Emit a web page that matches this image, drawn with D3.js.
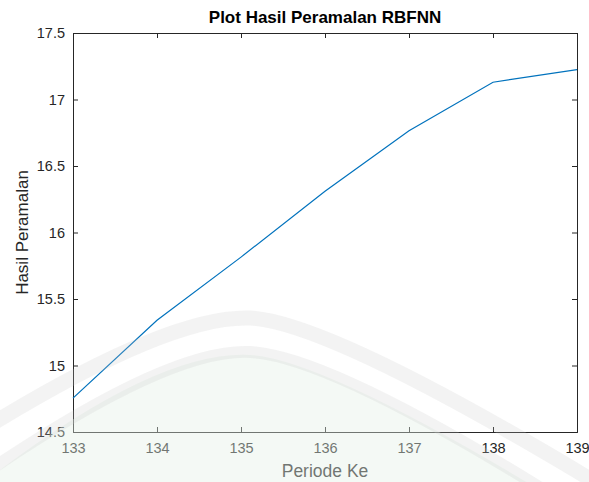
<!DOCTYPE html>
<html>
<head>
<meta charset="utf-8">
<script src="https://cdn.jsdelivr.net/npm/d3@7"></script>
<style>
  body { margin: 0; background: #fff; }
  svg { display: block; font-family: "Liberation Sans", Arial, sans-serif; }
</style>
</head>
<body>
<svg id="plot" width="589" height="482"></svg>
<script>
"use strict";

// data
const periods = [133, 134, 135, 136, 137, 138, 139];
const forecast = [14.755, 15.34, 15.815, 16.31, 16.765, 17.13, 17.225];
const yTicks = [14.5, 15, 15.5, 16, 16.5, 17, 17.5];

const width = 589, height = 482;
const margin = { top: 33, right: 12, bottom: 50, left: 73 };

const svg = d3.select("svg#plot");

const x = d3.scaleLinear()
  .domain([133, 139])
  .range([margin.left, width - margin.right]);
const y = d3.scaleLinear()
  .domain([14.5, 17.5])
  .range([height - margin.bottom, margin.top]);

const axisColor = "#262626";

// bottom + left axes, ticks pointing inward
const gx = svg.append("g")
  .attr("transform", `translate(0,${y(14.5)})`)
  .call(d3.axisBottom(x).tickValues(periods).tickSize(-5).tickPadding(11).tickFormat(d3.format("d")));
const gy = svg.append("g")
  .attr("transform", `translate(${x(133)},0)`)
  .call(d3.axisLeft(y).tickValues(yTicks).tickSize(-5).tickPadding(8).tickFormat(d => d));

// top + right (box on)
const gxt = svg.append("g")
  .attr("transform", `translate(0,${y(17.5)})`)
  .call(d3.axisTop(x).tickValues(periods).tickSize(-5).tickFormat(""));
const gyr = svg.append("g")
  .attr("transform", `translate(${x(139)},0)`)
  .call(d3.axisRight(y).tickValues(yTicks).tickSize(-5).tickFormat(""));

[gx, gy, gxt, gyr].forEach(g => {
  g.selectAll("path.domain").attr("stroke", axisColor).attr("stroke-width", 1);
  g.selectAll(".tick line").attr("stroke", axisColor).attr("stroke-width", 1);
  g.selectAll(".tick text")
    .attr("fill", axisColor)
    .style("font-size", "14.5px")
    .style("font-family", "'Liberation Sans', Arial, sans-serif");
});

// the line
const line = d3.line()
  .x((d, i) => x(periods[i]))
  .y(d => y(d));

svg.append("path")
  .datum(forecast)
  .attr("fill", "none")
  .attr("stroke", "#0072BD")
  .attr("stroke-width", 1.2)
  .attr("d", line);

// title and labels
svg.append("text")
  .attr("x", (x(133) + x(139)) / 2)
  .attr("y", 23)
  .attr("text-anchor", "middle")
  .attr("fill", "#000")
  .style("font-size", "17px")
  .style("font-weight", "bold")
  .text("Plot Hasil Peramalan RBFNN");

svg.append("text")
  .attr("x", (x(133) + x(139)) / 2)
  .attr("y", 477)
  .attr("text-anchor", "middle")
  .attr("fill", axisColor)
  .style("font-size", "17.5px")
  .text("Periode Ke");

svg.append("text")
  .attr("transform", `translate(28,${(y(14.5) + y(17.5)) / 2}) rotate(-90)`)
  .attr("text-anchor", "middle")
  .attr("fill", axisColor)
  .style("font-size", "17px")
  .text("Hasil Peramalan");

// faint watermark logo over the lower part
const wm = svg.append("g").attr("pointer-events", "none");
wm.append("path")
  .attr("d", "M0,470 Q160,350 250,355 Q330,360 589,520 L589,482 L0,482 Z")
  .attr("fill", "#e3f1e7")
  .attr("opacity", 0.4);
wm.append("path")
  .attr("d", "M-10,425 Q170,315 250,318 Q330,322 600,485")
  .attr("fill", "none")
  .attr("stroke", "#c8c8c8")
  .attr("stroke-width", 15)
  .attr("opacity", 0.22);
wm.append("path")
  .attr("d", "M-10,470 Q170,348 250,352 Q330,356 560,500")
  .attr("fill", "none")
  .attr("stroke", "#c8c8c8")
  .attr("stroke-width", 12)
  .attr("opacity", 0.22);
</script>
</body>
</html>
